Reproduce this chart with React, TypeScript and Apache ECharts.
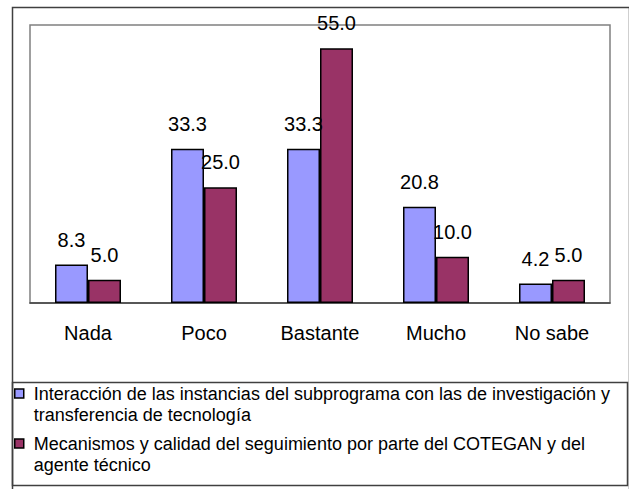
import React, { useEffect, useRef } from "react";
import * as echarts from "echarts";

const categories = ["Nada", "Poco", "Bastante", "Mucho", "No sabe"];
const seriesNames = [
  "Interacción de las instancias del subprograma con las de investigación y\ntransferencia de tecnología",
  "Mecanismos y calidad del seguimiento por parte del COTEGAN y del\nagente técnico",
];
const interaccion = [8.3, 33.3, 33.3, 20.8, 4.2];
const mecanismos = [5.0, 25.0, 55.0, 10.0, 5.0];

const FONT = "'Liberation Sans', Arial, sans-serif";

export default function App() {
  const ref = useRef<HTMLDivElement>(null);
  useEffect(() => {
    document.body.style.margin = "0";
    const chart = echarts.init(ref.current!, null, { renderer: "svg" });
    const label = {
      show: true,
      position: "top" as const,
      distance: 15,
      color: "#000",
      fontSize: 20,
      fontFamily: FONT,
      formatter: (p: any) => Number(p.value).toFixed(1),
    };
    chart.setOption({
      animation: false,
      backgroundColor: "#fff",
      textStyle: { fontFamily: FONT },
      grid: {
        left: 30,
        top: 25,
        width: 580,
        height: 278,
        show: true,
        borderColor: "#808080",
        borderWidth: 1.5,
        containLabel: false,
      },
      xAxis: {
        type: "category",
        data: categories,
        axisLine: { lineStyle: { color: "#404040", width: 1.5 } },
        axisTick: { length: 6, lineStyle: { color: "#404040", width: 1 } },
        axisLabel: { color: "#000", fontSize: 20, fontFamily: FONT, margin: 20 },
      },
      yAxis: {
        type: "value",
        min: 0,
        max: 60,
        show: false,
        splitLine: { show: false },
      },
      legend: {
        orient: "vertical",
        left: 14,
        top: 362,
        padding: 0,
        itemWidth: 9,
        itemHeight: 9,
        itemGap: -13,
        icon: "rect",
        selectedMode: false,
        itemStyle: { borderColor: "#000", borderWidth: 1.5 },
        formatter: (name: string) =>
          " \n" + name.split("\n").map((s) => " " + s).join("\n"),
        textStyle: {
          fontSize: 18,
          fontFamily: FONT,
          color: "#000",
          lineHeight: 21,
        },
        data: seriesNames,
      },
      graphic: [
        {
          type: "rect",
          left: 10,
          top: 5,
          shape: { x: 0, y: 0, width: 617, height: 500 },
          style: { fill: "none", stroke: "#404040", lineWidth: 1.5 },
          silent: true,
        },
        {
          type: "rect",
          left: 10,
          top: 380,
          shape: { x: 0, y: 0, width: 615, height: 103 },
          style: { fill: "none", stroke: "#404040", lineWidth: 1.5 },
          silent: true,
        },
      ],
      series: [
        {
          name: seriesNames[0],
          type: "bar",
          data: interaccion,
          barWidth: 33,
          barGap: "0%",
          itemStyle: { color: "#9999FF", borderColor: "#000", borderWidth: 1.5 },
          label,
        },
        {
          name: seriesNames[1],
          type: "bar",
          data: mecanismos,
          barWidth: 33,
          barGap: "0%",
          itemStyle: { color: "#993366", borderColor: "#000", borderWidth: 1.5 },
          label,
        },
      ],
    });
    return () => chart.dispose();
  }, []);
  return (
    <div
      ref={ref}
      style={{ position: "absolute", left: 0, top: 0, width: 629, height: 489 }}
    />
  );
}
